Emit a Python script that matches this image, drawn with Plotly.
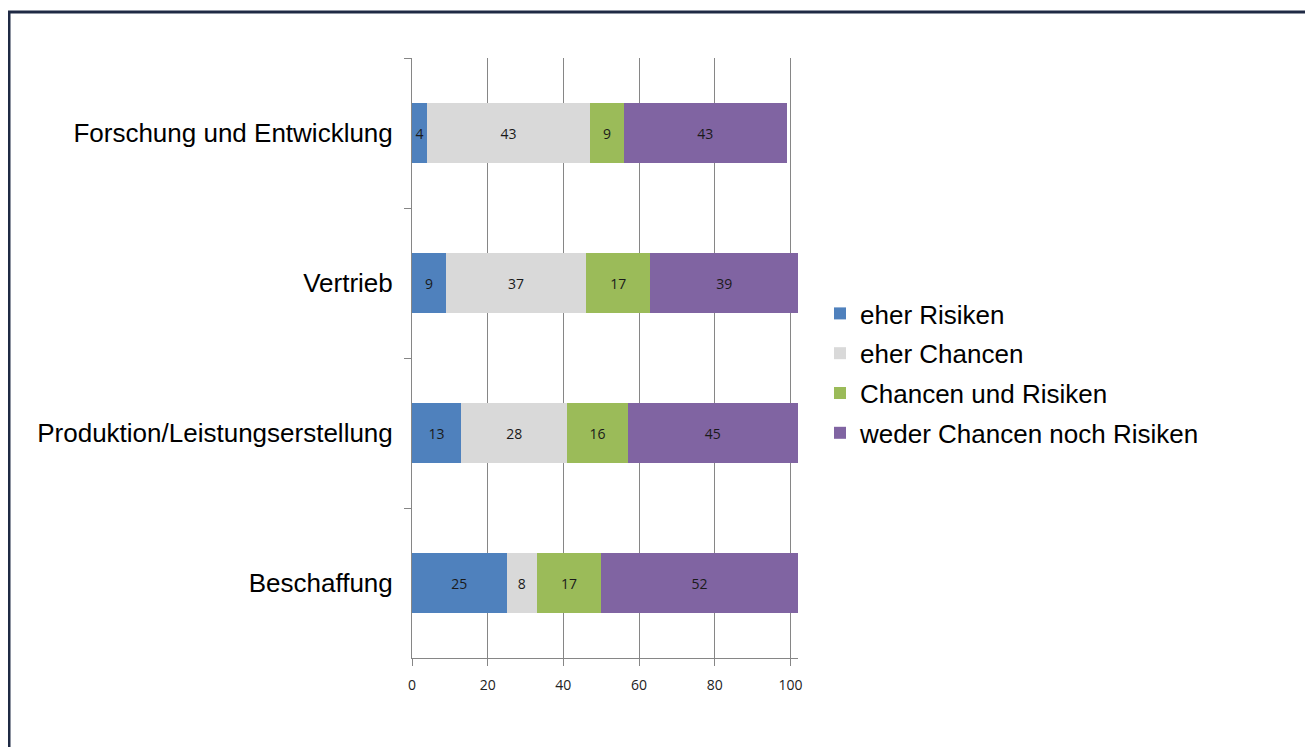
import plotly.graph_objects as go

# categories top to bottom
bereiche = ["Forschung und Entwicklung", "Vertrieb",
            "Produktion/Leistungserstellung", "Beschaffung"]

eher_risiken = [4, 9, 13, 25]
eher_chancen = [43, 37, 28, 8]
chancen_und_risiken = [9, 17, 16, 17]
weder_noch = [43, 39, 45, 52]

serien = [
    ("eher Risiken", eher_risiken, "#4F81BD"),
    ("eher Chancen", eher_chancen, "#D9D9D9"),
    ("Chancen und Risiken", chancen_und_risiken, "#9BBB59"),
    ("weder Chancen noch Risiken", weder_noch, "#8064A2"),
]

x_ticks = [0, 20, 40, 60, 80, 100]

# page body has an 8px margin, so the figure is shifted by that much
OFF = 8
W, H = 1313 - OFF, 747 - OFF
m_left, m_top = 412 - OFF, 58 - OFF
m_right = W - (798 - OFF)
m_bottom = H - (658 - OFF)
grid_col = "#868686"

fig = go.Figure()
for i, (name, vals, col) in enumerate(serien):
    fig.add_trace(go.Bar(
        y=bereiche, x=vals, name=name, orientation="h",
        marker=dict(color=col, line=dict(width=0)),
        text=vals, textposition="inside", insidetextanchor="middle",
        textangle=0, constraintext="none",
        textfont=dict(family="Open Sans, Arial", size=14, color="#1a1a1a"),
        legendgroup=f"g{i}",
    ))


def px_x(p):
    return (p - OFF - m_left) / (W - m_left - m_right)


def px_y(p):
    return (H - m_bottom - (p - OFF)) / (H - m_top - m_bottom)


border = dict(color="#1F2A44", width=3)
fig.add_shape(type="line", xref="paper", yref="paper",
              x0=px_x(8), x1=px_x(1320), y0=px_y(12), y1=px_y(12), line=border)
fig.add_shape(type="line", xref="paper", yref="paper",
              x0=px_x(9), x1=px_x(9), y0=px_y(11), y1=px_y(760), line=border)

fig.update_layout(
    width=W, height=H,
    barmode="stack", bargap=0.6,
    plot_bgcolor="white", paper_bgcolor="white",
    margin=dict(l=m_left, r=m_right, t=m_top, b=m_bottom, autoexpand=False),
    font=dict(family="Liberation Sans, Arial", color="black"),
    xaxis=dict(range=[0, 102], tickvals=x_ticks, showgrid=True,
               gridcolor=grid_col, gridwidth=1, zeroline=False,
               showline=True, linecolor=grid_col, linewidth=1,
               ticks="outside", ticklen=7, tickcolor=grid_col,
               ticklabelstandoff=7,
               tickfont=dict(family="Open Sans, Arial", size=14, color="#222")),
    yaxis=dict(autorange="reversed", showgrid=False, zeroline=False,
               showline=True, linecolor=grid_col, linewidth=1,
               ticks="outside", tickson="boundaries", ticklen=7,
               tickcolor=grid_col, ticklabelstandoff=13,
               tickfont=dict(family="Liberation Sans, Arial", size=26, color="black")),
    legend=dict(x=px_x(820), y=px_y(290), xanchor="left", yanchor="top",
                traceorder="grouped", tracegroupgap=3, itemwidth=30,
                font=dict(family="Liberation Sans, Arial", size=26, color="black"),
                bgcolor="rgba(0,0,0,0)"),
)

fig.write_html("out.html")
